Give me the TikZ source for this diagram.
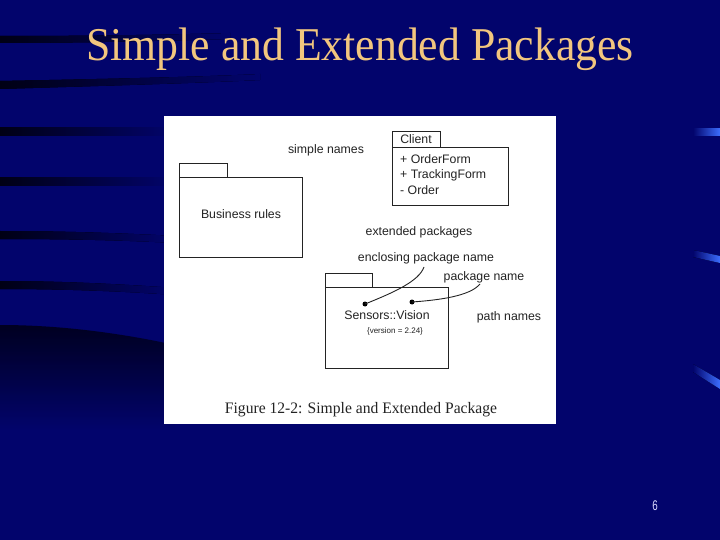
\documentclass[tikz,border=0pt]{standalone}
\usepackage{fontspec}
\setmainfont{Liberation Serif}
\newfontfamily\diagfont{Liberation Sans}
\definecolor{bg}{RGB}{2,4,108}
\definecolor{bgdark}{RGB}{0,0,20}
\definecolor{titlecol}{RGB}{242,198,126}
\definecolor{hilite}{RGB}{60,110,255}
\definecolor{ink}{RGB}{35,35,35}
\begin{document}
\begin{tikzpicture}[x=1pt,y=-1pt,
  pkg/.style={draw=ink,line width=0.9pt},
  lbl/.style={font=\diagfont\fontsize{12.3}{14}\selectfont,text=ink,inner sep=0pt},
  small/.style={font=\diagfont\fontsize{8}{9}\selectfont,text=ink,inner sep=0pt},
  dotm/.style={circle,fill=black,inner sep=0pt,minimum size=5pt},
  lead/.style={draw=ink,line width=0.9pt},
  stripe/.style={left color=bgdark,right color=bg}
]
\useasboundingbox (0,0) rectangle (720,540);
% background
\fill[bg] (0,0) rectangle (720,540);
\fill[stripe] (0,36) .. controls (80,36) and (160,35) .. (230,33) -- (230,39) .. controls (160,41) and (80,43) .. (0,43) -- cycle;
\fill[stripe] (0,81) .. controls (100,79) and (200,77) .. (260,74) -- (260,80) .. controls (200,83) and (100,86) .. (0,89) -- cycle;
\fill[stripe] (0,128) rectangle (175,136);
\fill[stripe] (0,178) rectangle (175,186);
\fill[stripe] (0,231) .. controls (60,231) and (120,233) .. (175,236) -- (175,243) .. controls (120,240) and (60,239) .. (0,239) -- cycle;
\fill[stripe] (0,281) .. controls (60,281) and (120,284) .. (175,288) -- (175,295) .. controls (120,291) and (60,289) .. (0,289) -- cycle;
\shade[top color=bgdark,bottom color=bg,opacity=0.85] (0,325) .. controls (60,325) and (120,333) .. (175,345) -- (175,430) -- (0,430) -- cycle;
% right highlights
\fill[left color=bg,right color=hilite] (693,129) rectangle (720,136);
\fill[left color=bg,right color=hilite] (693,250) -- (720,256) -- (720,263) -- (693,257) -- cycle;
\fill[left color=bg,right color=hilite] (693,364) -- (720,380) -- (720,389) -- (693,372) -- cycle;
% title
\node[font=\fontsize{47}{52}\selectfont,text=titlecol,inner sep=0pt,anchor=base] (title) at (360,61) {\scalebox{0.93}[1]{Simple and Extended Packages}};
% page number
\node[font=\diagfont\fontsize{14}{15}\selectfont,text=white!85!blue,inner sep=0pt,anchor=base] (pnum) at (655,510) {\scalebox{0.7}[1]{6}};
% white figure panel
\fill[white] (164,116) rectangle (556,424);
% Business rules package
\draw[pkg] (179,177) rectangle (227,163);
\draw[pkg] (179,177) rectangle (302,257);
\node[lbl] (br) at (241,214) {Business rules};
% Client package
\draw[pkg] (392,147) rectangle (440,131);
\node[lbl] (client) at (416,139.5) {Client};
\draw[pkg] (392,147) rectangle (508,205);
\node[lbl,anchor=west] (of) at (400,159.5) {+ OrderForm};
\node[lbl,anchor=west] (tf) at (400,175) {+ TrackingForm};
\node[lbl,anchor=west] (ord) at (400,190.5) {- Order};
% labels
\node[lbl] (simple) at (326,150.5) {simple names};
\node[lbl] (ext) at (419,232.5) {extended packages};
\node[lbl] (encl) at (426,258.5) {enclosing package name};
\node[lbl] (pname) at (484,277.5) {package name};
\node[lbl] (path) at (509,317.5) {path names};
% Sensors package
\draw[pkg] (325,287) rectangle (372,273);
\draw[pkg] (325,287) rectangle (448,368);
\node[lbl] (sv) at (387,315.5) {Sensors::Vision};
\node[small] (ver) at (395,331.5) {\{version = 2.24\}};
\node[dotm] (d1) at (365,304) {};
\node[dotm] (d2) at (412,302) {};
\coordinate (e1) at (424,267);
\coordinate (e2) at (480,284);
\draw[lead] (d1.center) .. controls (395,292) and (419,281) .. (e1);
\draw[lead] (d2.center) .. controls (440,300) and (470,296) .. (e2);
% caption
\node[font=\fontsize{16}{18}\selectfont,text=ink,inner sep=0pt,anchor=base] (cap) at (361,413) {\scalebox{0.975}[1]{Figure 12-2: Simple and Extended Package}};
\end{tikzpicture}
\end{document}
